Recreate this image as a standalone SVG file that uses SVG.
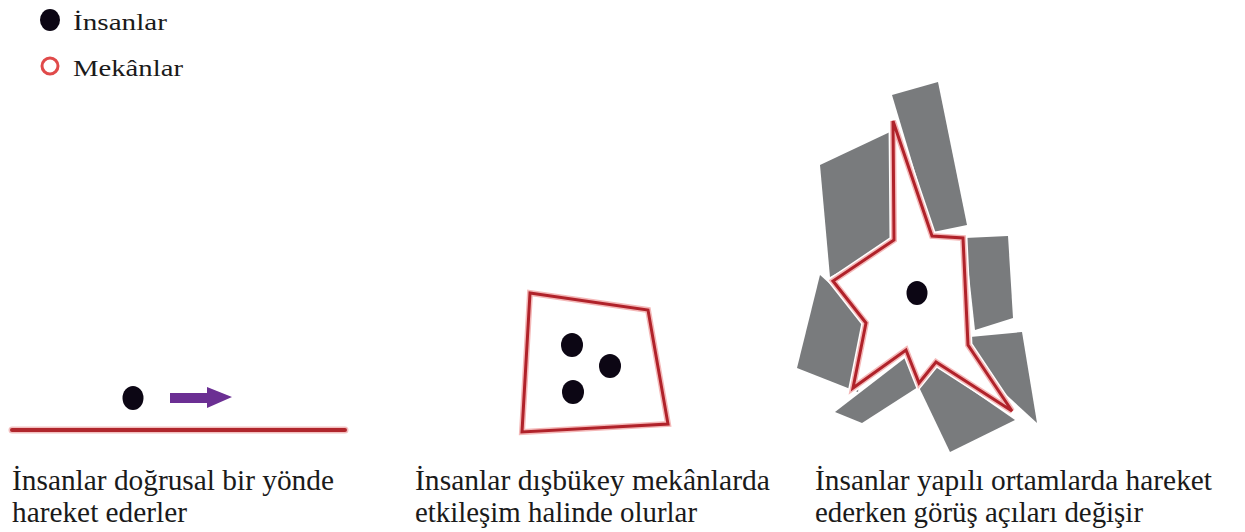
<svg xmlns="http://www.w3.org/2000/svg" width="1245" height="532" viewBox="0 0 1245 532">
<style>
text{font-family:"Liberation Serif","DejaVu Serif",serif;fill:#1a1a1a}
.lg{font-size:24px}
.lb{font-size:29px}
.dot{fill:#0c0614}
.red{fill:none;stroke:#b0222a;stroke-width:3;stroke-linejoin:miter}
.glow{fill:none;stroke:#f4b8b8;stroke-width:6;stroke-linejoin:miter}
.grey{fill:#797b7d}
</style>
<rect width="1245" height="532" fill="#ffffff"/>
<g id="legend">
<ellipse class="dot" cx="50" cy="20" rx="10" ry="11"/>
<text class="lg" x="73" y="30" font-family="Liberation Serif, serif" textLength="94" lengthAdjust="spacingAndGlyphs">İnsanlar</text>
<circle cx="50" cy="66" r="8" fill="#fff" stroke="#e04a4a" stroke-width="3"/>
<text class="lg" x="73" y="76" font-family="Liberation Serif, serif" textLength="110" lengthAdjust="spacingAndGlyphs">Mekânlar</text>
</g>
<g id="scene-linear">
<line x1="12" y1="430" x2="345" y2="430" stroke="#f2c0c0" stroke-width="7" stroke-linecap="round"/>
<line x1="12" y1="430" x2="345" y2="430" stroke="#b0262c" stroke-width="4" stroke-linecap="round"/>
<ellipse class="dot" cx="133" cy="398" rx="10.5" ry="12"/>
</g>
<g id="connectors">
<polygon points="170,393 207,393 207,387 232,397 207,408 207,403 170,403" fill="#6b2f93"/>
</g>
<g id="scene-convex">
<polygon class="glow" points="530,293 648,310 668,424 522,432"/>
<polygon class="red" points="530,293 648,310 668,424 522,432"/>
<ellipse class="dot" cx="572" cy="345" rx="11" ry="12"/>
<ellipse class="dot" cx="610" cy="366" rx="11" ry="12"/>
<ellipse class="dot" cx="573" cy="392" rx="11" ry="12"/>
</g>
<g id="scene-built">
<polygon class="grey" points="892,95 938,82 967,225 933,232"/>
<polygon class="grey" points="820,165 890,132 897,240 830,277"/>
<polygon class="grey" points="965,238 1008,236 1013,318 975,330"/>
<polygon class="grey" points="970,337 1022,332 1037,423 960,352"/>
<polygon class="grey" points="918,385 937,366 1015,420 950,452"/>
<polygon class="grey" points="835,412 905,358 918,387 862,423"/>
<polygon class="grey" points="820,275 868,318 858,392 797,368"/>
<path d="M893,121 L932,236 L963,238 L968,345 L1012,411 L936,362 L919,383 L906,350 L853,388 L866,323 L833,281 L894,240 Z" fill="#ffffff" stroke="#ffffff" stroke-width="9" stroke-linejoin="miter"/>
<path class="glow" d="M893,121 L932,236 L963,238 L968,345 L1012,411 L936,362 L919,383 L906,350 L853,388 L866,323 L833,281 L894,240 Z"/>
<path class="red" d="M893,121 L932,236 L963,238 L968,345 L1012,411 L936,362 L919,383 L906,350 L853,388 L866,323 L833,281 L894,240 Z"/>
<ellipse class="dot" cx="917" cy="293" rx="10.5" ry="12"/>
</g>
<g id="labels" font-family="Liberation Serif, serif">
<text class="lb" x="12" y="490" textLength="322" lengthAdjust="spacingAndGlyphs">İnsanlar doğrusal bir yönde</text>
<text class="lb" x="12" y="522" textLength="175" lengthAdjust="spacingAndGlyphs">hareket ederler</text>
<text class="lb" x="415" y="490" textLength="355" lengthAdjust="spacingAndGlyphs">İnsanlar dışbükey mekânlarda</text>
<text class="lb" x="415" y="522" textLength="282" lengthAdjust="spacingAndGlyphs">etkileşim halinde olurlar</text>
<text class="lb" x="815" y="490" textLength="397" lengthAdjust="spacingAndGlyphs">İnsanlar yapılı ortamlarda hareket</text>
<text class="lb" x="815" y="522" textLength="328" lengthAdjust="spacingAndGlyphs">ederken görüş açıları değişir</text>
</g>
</svg>
